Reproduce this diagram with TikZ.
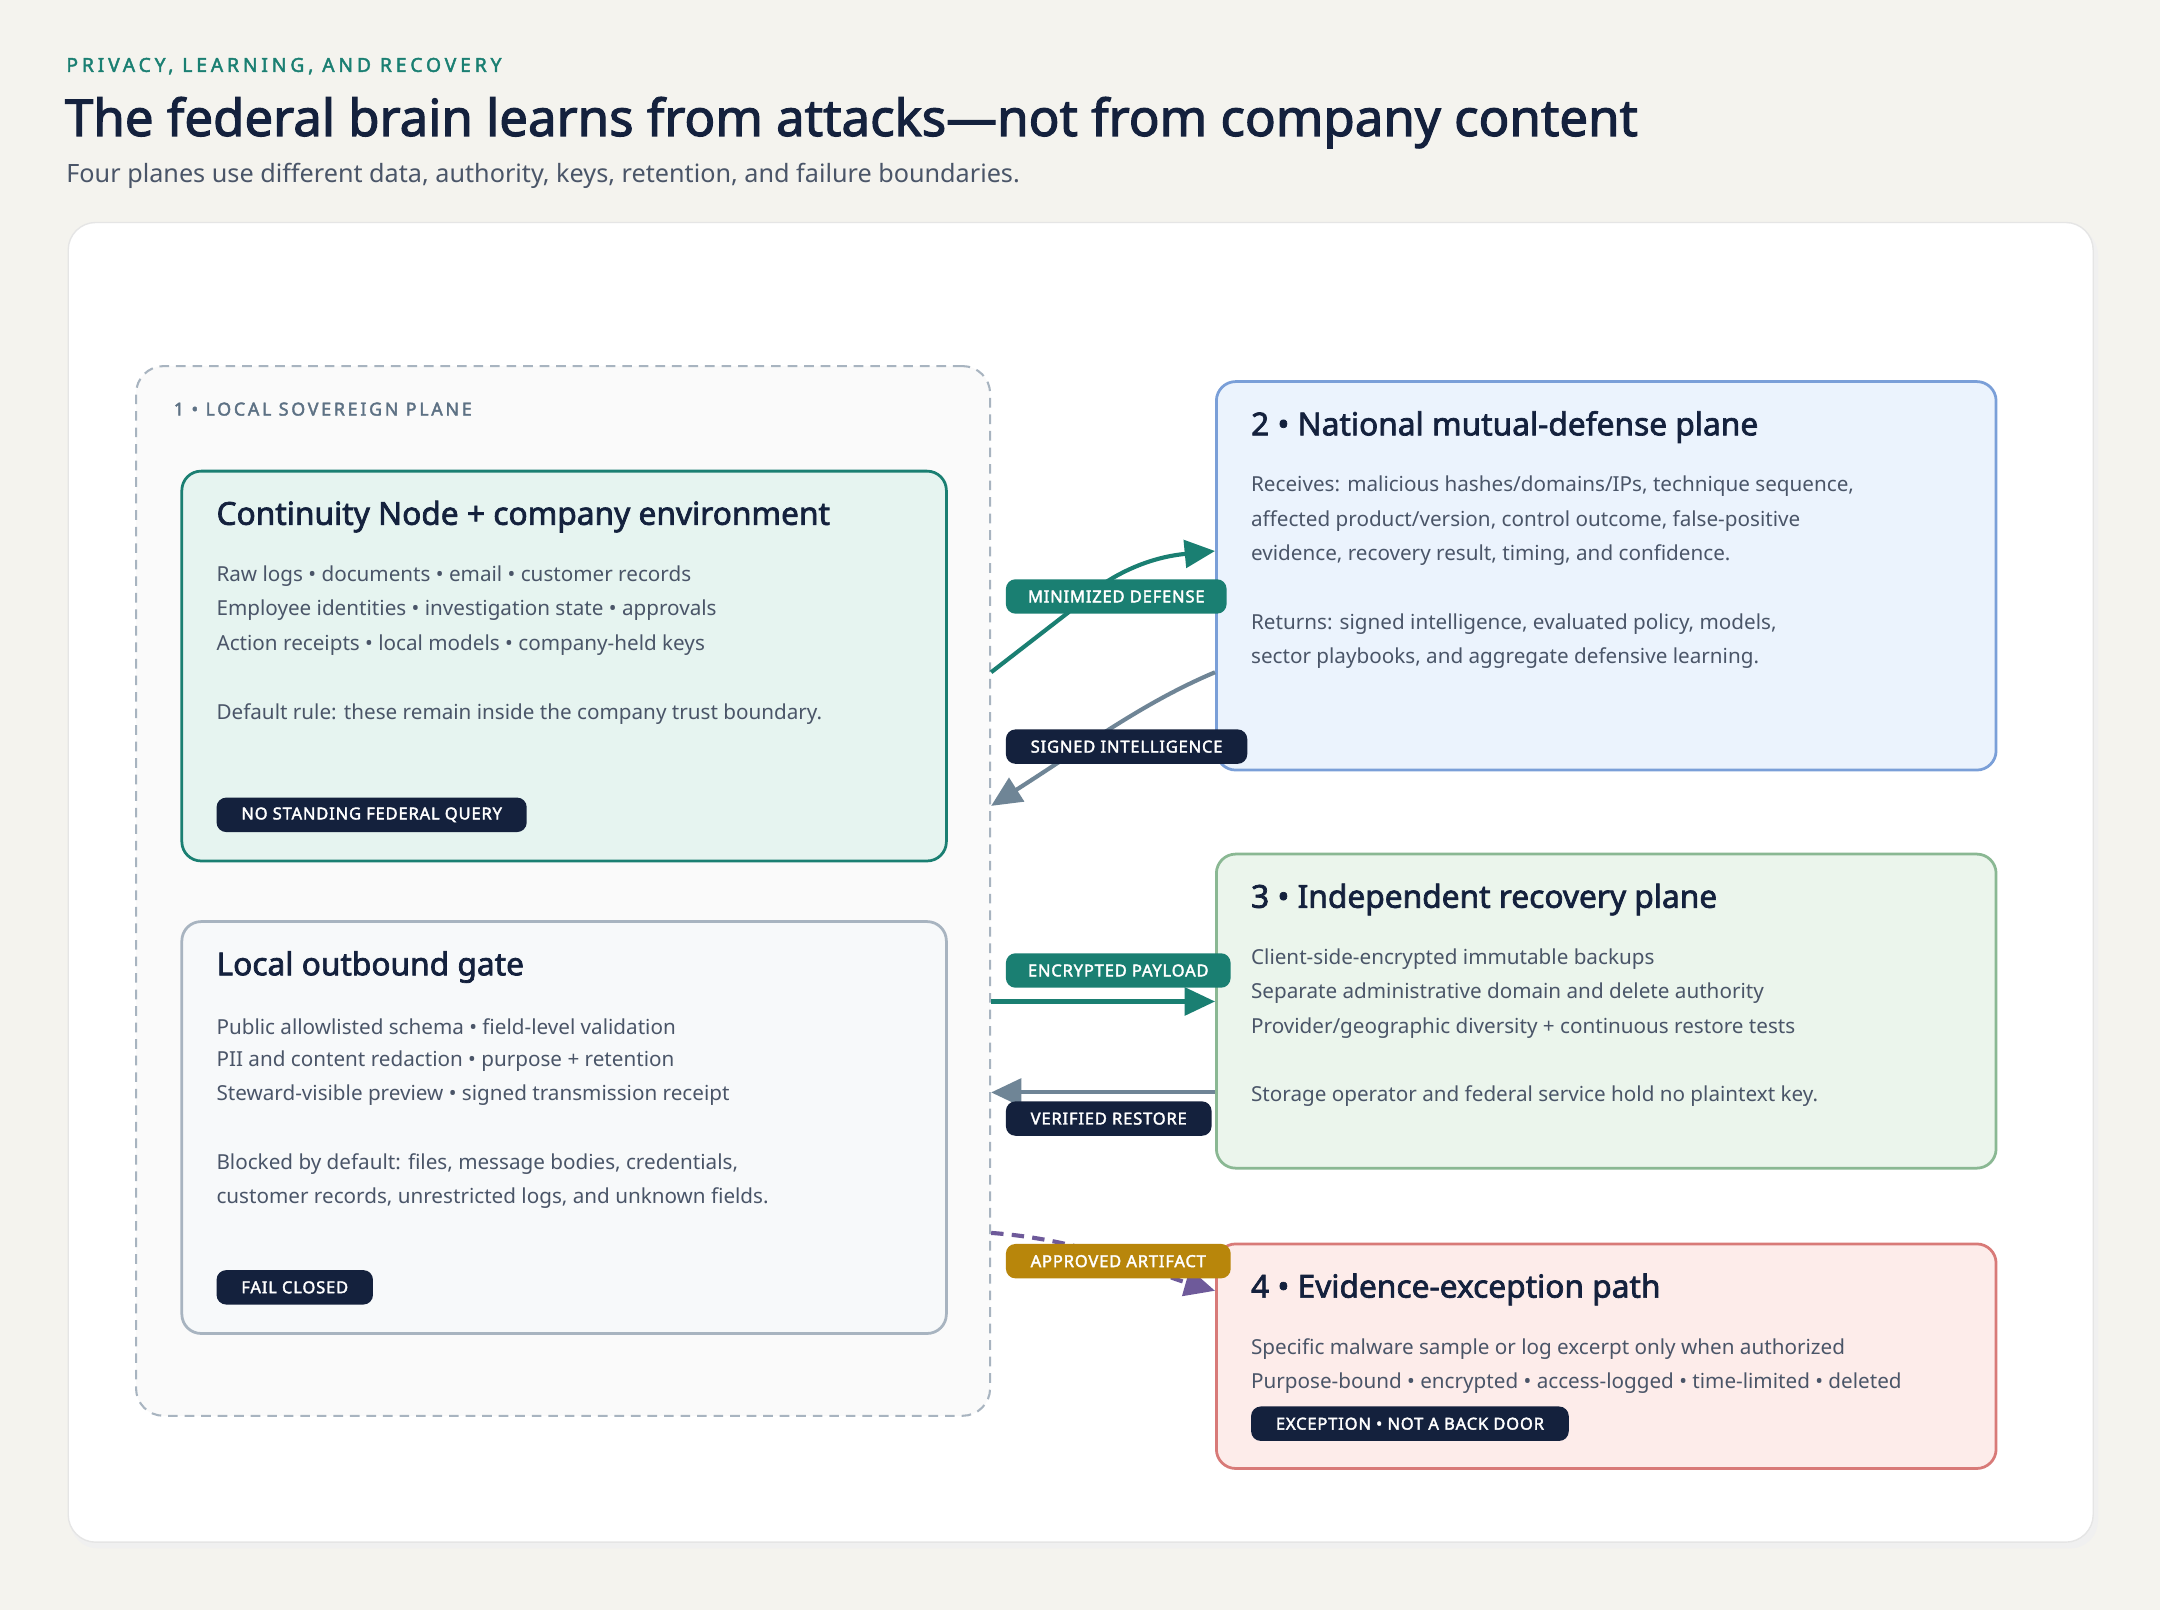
\documentclass[tikz,border=0pt]{standalone}
\usepackage{fontspec}
\setmainfont{Noto Sans}[AutoFakeBold=2.2]
\usetikzlibrary{arrows.meta}
\definecolor{bg}{HTML}{F4F3EE}
\definecolor{navy}{HTML}{14213D}
\definecolor{teal}{HTML}{1A7F72}
\definecolor{txt}{HTML}{4A5568}
\definecolor{gry}{HTML}{6F8596}
\definecolor{gold}{HTML}{B8860B}
\definecolor{purp}{HTML}{6E5A9A}
\definecolor{f1}{HTML}{E6F4F0}
\definecolor{f2}{HTML}{EBF3FD}
\definecolor{d2}{HTML}{7A9FD8}
\definecolor{f3}{HTML}{EBF5EC}
\definecolor{d3}{HTML}{8AB893}
\definecolor{f4}{HTML}{FDECEA}
\definecolor{d4}{HTML}{D87A78}
\definecolor{fg}{HTML}{F7F9FA}
\definecolor{dg}{HTML}{A8B4C0}
\tikzset{
  box/.style={draw, line width=2pt, rounded corners=14pt, anchor=north west, inner sep=0},
  ttl/.style={anchor=west, font=\fontsize{23}{26}\selectfont\bfseries, text=navy, inner sep=0},
  body/.style={anchor=west, font=\fontsize{15}{18}\selectfont, text=txt, inner sep=0},
  pill/.style={anchor=west, rounded corners=7pt, fill=#1, text=white, font=\fontsize{12}{14}\selectfont\bfseries\addfontfeature{LetterSpace=5}, minimum height=25pt, inner xsep=18pt, inner ysep=0},
  conn/.style={line width=3pt, -{Triangle[length=22pt,width=20pt]}},
}
\begin{document}
\begin{tikzpicture}[x=1pt,y=-1pt]
\fill[bg] (0,0) rectangle (1568,1168.8);
\useasboundingbox (0,0) rectangle (1568,1168.8);
\fill[black!6, rounded corners=20pt] (51,165) rectangle (1523,1124);
\node[box, draw=black!10, line width=1pt, fill=white, minimum width=1470pt, minimum height=958pt, rounded corners=20pt] (card) at (49,161) {};
\node[anchor=west, inner sep=0, text=teal, font=\fontsize{14}{16}\selectfont\bfseries\addfontfeature{LetterSpace=20}] (kick) at (48,48) {PRIVACY, LEARNING, AND RECOVERY};
\node[anchor=west, inner sep=0, text=navy, font=\fontsize{37}{42}\selectfont\bfseries] (title) at (47,89) {The federal brain learns from attacks—not from company content};
\node[anchor=west, inner sep=0, text=txt, font=\fontsize{18.3}{21}\selectfont] (sub) at (48,128) {Four planes use different data, authority, keys, retention, and failure boundaries.};

% plane 1
\node[box, draw=dg, line width=1.5pt, dash pattern=on 7pt off 5pt, fill=black!2, minimum width=620pt, minimum height=762pt, rounded corners=20pt] (p1) at (98,265) {};
\node[anchor=west, inner sep=0, text=gry!80!navy, font=\fontsize{13}{15}\selectfont\bfseries\addfontfeature{LetterSpace=15}] (p1l) at (126,297) {1 • LOCAL SOVEREIGN PLANE};

\node[box, draw=teal, fill=f1, minimum width=555pt, minimum height=283pt] (cn) at (131,341) {};
\node[ttl] (cnt) at (157,375) {Continuity Node + company environment};
\node[body] at (157,418) {Raw logs • documents • email • customer records};
\node[body] at (157,443) {Employee identities • investigation state • approvals};
\node[body] at (157,468) {Action receipts • local models • company-held keys};
\node[body] at (157,518) {Default rule: these remain inside the company trust boundary.};
\node[pill=navy] (q) at (157,591.5) {NO STANDING FEDERAL QUERY};

\node[box, draw=dg, fill=fg, minimum width=555pt, minimum height=299pt] (gate) at (131,668) {};
\node[ttl] at (157,702) {Local outbound gate};
\node[body] at (157,745) {Public allowlisted schema • field-level validation};
\node[body] at (157,770) {PII and content redaction • purpose + retention};
\node[body] at (157,795) {Steward-visible preview • signed transmission receipt};
\node[body] at (157,845) {Blocked by default: files, message bodies, credentials,};
\node[body] at (157,870) {customer records, unrestricted logs, and unknown fields.};
\node[pill=navy] (fc) at (157,934.5) {FAIL CLOSED};

% plane 2
\node[box, draw=d2, fill=f2, minimum width=566pt, minimum height=282pt] (p2) at (882,276) {};
\node[ttl] at (908,310) {2 • National mutual-defense plane};
\node[body] at (908,353) {Receives: malicious hashes/domains/IPs, technique sequence,};
\node[body] at (908,378) {affected product/version, control outcome, false-positive};
\node[body] at (908,403) {evidence, recovery result, timing, and confidence.};
\node[body] at (908,453) {Returns: signed intelligence, evaluated policy, models,};
\node[body] at (908,478) {sector playbooks, and aggregate defensive learning.};

% plane 3
\node[box, draw=d3, fill=f3, minimum width=566pt, minimum height=228pt] (p3) at (882,619) {};
\node[ttl] at (908,653) {3 • Independent recovery plane};
\node[body] at (908,696) {Client-side-encrypted immutable backups};
\node[body] at (908,721) {Separate administrative domain and delete authority};
\node[body] at (908,746) {Provider/geographic diversity + continuous restore tests};
\node[body] at (908,796) {Storage operator and federal service hold no plaintext key.};

% plane 4
\node[box, draw=d4, fill=f4, minimum width=566pt, minimum height=163pt] (p4) at (882,902) {};
\node[ttl] at (908,936) {4 • Evidence-exception path};
\node[body] at (908,979) {Specific malware sample or log excerpt only when authorized};
\node[body] at (908,1004) {Purpose-bound • encrypted • access-logged • time-limited • deleted};
\node[pill=navy] (ex) at (908,1033.5) {EXCEPTION • NOT A BACK DOOR};

% connectors
\draw[conn, teal] (p1.east |- 0,488) -- (775,445) .. controls (800,420) and (830,405) .. (p2.west |- 0,400);
\draw[conn, gry] (p2.west |- 0,488) .. controls (830,510) and (790,540) .. (p1.east |- 0,585);
\draw[conn, teal] (p1.east |- 0,727) -- (p3.west |- 0,727);
\draw[conn, gry] (p3.west |- 0,793) -- (p1.east |- 0,793);
\draw[conn, purp, dash pattern=on 9pt off 6pt] (p1.east |- 0,895) .. controls (790,900) and (840,925) .. (p4.west |- 0,937);

\node[pill=teal, inner xsep=16pt] (l1) at (730,433) {MINIMIZED DEFENSE};
\node[pill=navy] (l2) at (730,542) {SIGNED INTELLIGENCE};
\node[pill=teal, inner xsep=16pt] (l3) at (730,704.5) {ENCRYPTED PAYLOAD};
\node[pill=navy] (l4) at (730,812) {VERIFIED RESTORE};
\node[pill=gold] (l5) at (730,915.5) {APPROVED ARTIFACT};
\end{tikzpicture}
\end{document}
